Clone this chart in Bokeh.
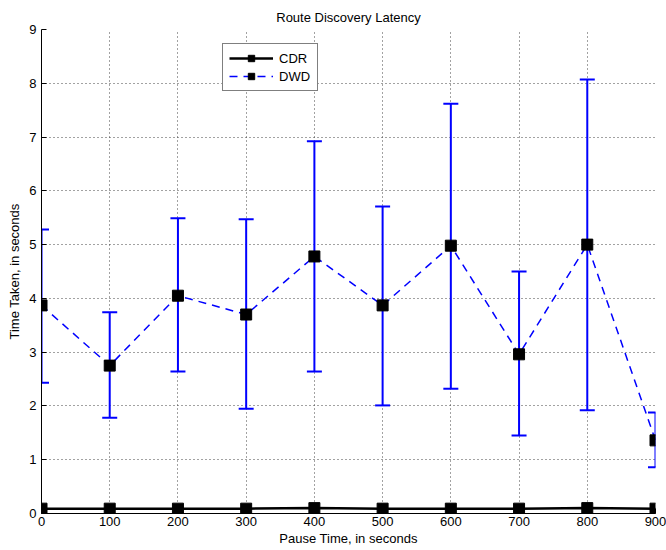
from bokeh.plotting import figure
from bokeh.models import Range1d, FixedTicker, Legend, LegendItem, ColumnDataSource
from bokeh.embed import file_html
from bokeh.resources import INLINE

pause = [0, 100, 200, 300, 400, 500, 600, 700, 800, 900]
cdr = [0.09, 0.09, 0.09, 0.09, 0.10, 0.09, 0.09, 0.09, 0.10, 0.09]
dwd = [3.87, 2.75, 4.05, 3.70, 4.78, 3.87, 4.98, 2.96, 5.00, 1.36]
dwd_upper = [5.28, 3.74, 5.49, 5.47, 6.92, 5.71, 7.62, 4.50, 8.07, 1.88]
dwd_lower = [2.43, 1.78, 2.64, 1.95, 2.64, 2.01, 2.32, 1.45, 1.92, 0.86]
x_ticks = [0, 100, 200, 300, 400, 500, 600, 700, 800, 900]
y_ticks = [0, 1, 2, 3, 4, 5, 6, 7, 8, 9]

FONT = "Liberation Sans"
BLUE = "#0000ff"

p = figure(width=666, height=550, output_backend="svg", toolbar_location=None,
           x_range=Range1d(0, 900), y_range=Range1d(0, 9),
           title="Route Discovery Latency",
           min_border_left=41, min_border_right=11, min_border_top=29, min_border_bottom=37)

p.title.align = "center"
p.title.text_font = FONT
p.title.text_font_size = "13px"
p.title.text_font_style = "normal"
p.title.text_color = "black"

p.outline_line_color = None
p.background_fill_color = "white"
p.border_fill_color = "white"

for ax in (p.xaxis[0], p.yaxis[0]):
    ax.axis_line_color = "black"
    ax.axis_line_width = 1
    ax.major_tick_in = 5
    ax.major_tick_out = 0
    ax.minor_tick_line_color = None
    ax.major_label_text_font = FONT
    ax.major_label_text_font_size = "13px"
    ax.major_label_text_color = "black"
    ax.axis_label_text_font = FONT
    ax.axis_label_text_font_size = "13px"
    ax.axis_label_text_font_style = "normal"
    ax.axis_label_text_color = "black"

p.xaxis.ticker = FixedTicker(ticks=x_ticks)
p.yaxis.ticker = FixedTicker(ticks=y_ticks)
p.xaxis.axis_label = "Pause Time, in seconds"
p.yaxis.axis_label = "Time Taken, in seconds"
p.xaxis.major_label_standoff = 3
p.yaxis.major_label_standoff = 5
p.xaxis.axis_label_standoff = 2
p.yaxis.axis_label_standoff = 4

for g in (p.xgrid[0], p.ygrid[0]):
    g.grid_line_color = "#444444"
    g.grid_line_dash = "1 3"
    g.grid_line_width = 1

src = ColumnDataSource(dict(x=pause, cdr=cdr, dwd=dwd, up=dwd_upper, lo=dwd_lower))

# DWD error bars
p.segment(x0="x", y0="lo", x1="x", y1="up", source=src, line_color=BLUE, line_width=2)
p.scatter(x="x", y="up", source=src, marker="dash", size=15, line_color=BLUE, line_width=2)
p.scatter(x="x", y="lo", source=src, marker="dash", size=15, line_color=BLUE, line_width=2)

# CDR
cdr_line = p.line(x="x", y="cdr", source=src, line_color="black", line_width=2.5)
cdr_mark = p.scatter(x="x", y="cdr", source=src, marker="square", size=11,
                     fill_color="black", line_color="black")

# DWD
dwd_line = p.line(x="x", y="dwd", source=src, line_color=BLUE, line_width=1.5, line_dash="8 6")
dwd_mark = p.scatter(x="x", y="dwd", source=src, marker="square", size=11,
                     fill_color="black", line_color="black")

legend = Legend(items=[LegendItem(label="CDR", renderers=[cdr_line, cdr_mark]),
                       LegendItem(label="DWD", renderers=[dwd_line, dwd_mark])],
                location=(181, 422))
legend.label_text_font = FONT
legend.label_text_font_size = "13px"
legend.label_text_color = "black"
legend.border_line_color = "black"
legend.border_line_width = 1
legend.background_fill_color = "white"
legend.background_fill_alpha = 1
legend.padding = 6
legend.spacing = 2
legend.margin = 0
legend.glyph_width = 44
legend.glyph_height = 16
legend.label_height = 16
legend.label_width = 32
legend.label_standoff = 6
p.add_layout(legend)

open("out.html", "w").write(file_html(p, INLINE))
